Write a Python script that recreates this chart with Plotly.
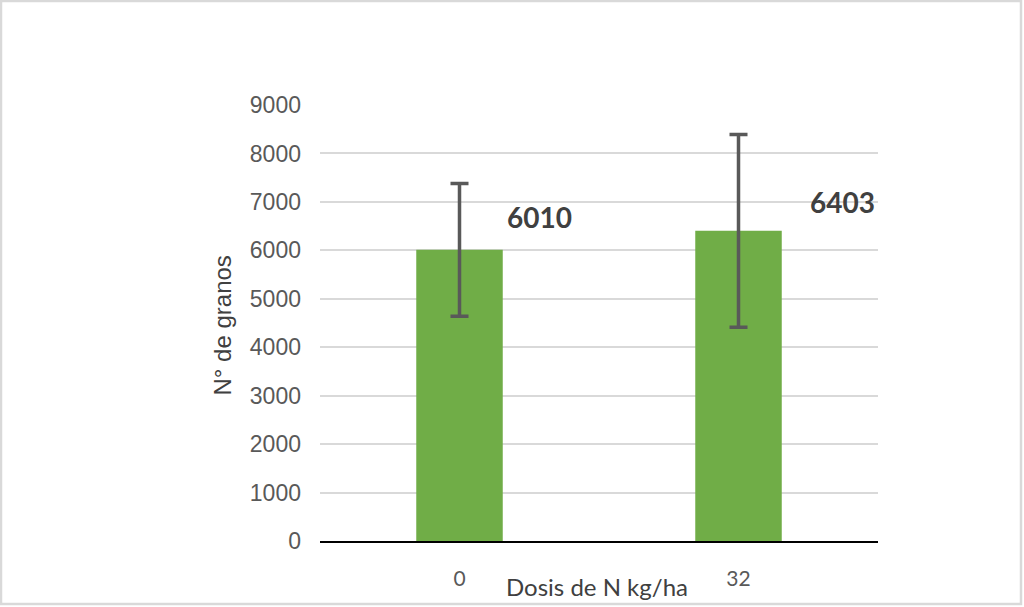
import plotly.graph_objects as go

# Données
dosis = ["0", "32"]
granos = [6010, 6403]
error_granos = [1370, 1990]
y_ticks = [0, 1000, 2000, 3000, 4000, 5000, 6000, 7000, 8000, 9000]

fig = go.Figure()

fig.add_trace(go.Bar(
    x=dosis,
    y=granos,
    width=0.31,
    marker=dict(color="#70ad47", line=dict(width=0)),
    error_y=dict(type="data", array=error_granos, visible=True,
                 color="#595959", thickness=3.5, width=9),
    showlegend=False,
    hoverinfo="skip",
))

# Étiquettes de valeur en gras, à droite des barres d'erreur
label_shift = [80, 104]
label_y = [6690, 7000]
for i, (v, dx, yy) in enumerate(zip(granos, label_shift, label_y)):
    fig.add_annotation(
        x=i, y=yy, text="<b>%d</b>" % v, showarrow=False,
        xshift=dx, font=dict(family="Lato, Open Sans, sans-serif", size=28, color="#404040"),
    )

# Titres des axes
fig.add_annotation(
    xref="paper", yref="paper", x=0.497, y=-0.105, yanchor="middle",
    text="Dosis de N kg/ha", showarrow=False,
    font=dict(family="Lato, Open Sans, sans-serif", size=24, color="#404040"),
)
fig.add_annotation(
    xref="paper", yref="paper", x=-0.1756, y=0.5, textangle=-90,
    xshift=-16, yshift=-3,
    text="N° de granos", showarrow=False,
    font=dict(family="Liberation Sans, Arial, sans-serif", size=24, color="#404040"),
)

# Cadre gris autour de la figure
fig.add_shape(
    type="rect", xref="paper", yref="paper",
    x0=-319 / 558, x1=701 / 558, y0=-63 / 436, y1=540 / 436,
    line=dict(color="#d9d9d9", width=2.5), layer="below",
)

fig.update_xaxes(
    type="category",
    range=[-0.5, 1.5],
    showgrid=False,
    showline=True, linecolor="#000000", linewidth=1.5,
    ticks="", ticklabelstandoff=18,
    tickfont=dict(family="Lato, Open Sans, sans-serif", size=21, color="#595959"),
)
fig.update_yaxes(
    range=[0, 9000],
    tickvals=y_ticks,
    showgrid=True, gridcolor="#d9d9d9", gridwidth=1.5,
    zeroline=False, showline=False, ticks="",
    ticklabelstandoff=18,
    tickfont=dict(family="Liberation Sans, Arial, sans-serif", size=23, color="#595959"),
)

fig.update_layout(
    width=1024,
    height=607,
    margin=dict(l=320, r=146, t=105, b=66),
    plot_bgcolor="white",
    paper_bgcolor="white",
)

fig.write_html("out.html", config={"displayModeBar": False},
               post_script="document.body.style.margin='0';")
